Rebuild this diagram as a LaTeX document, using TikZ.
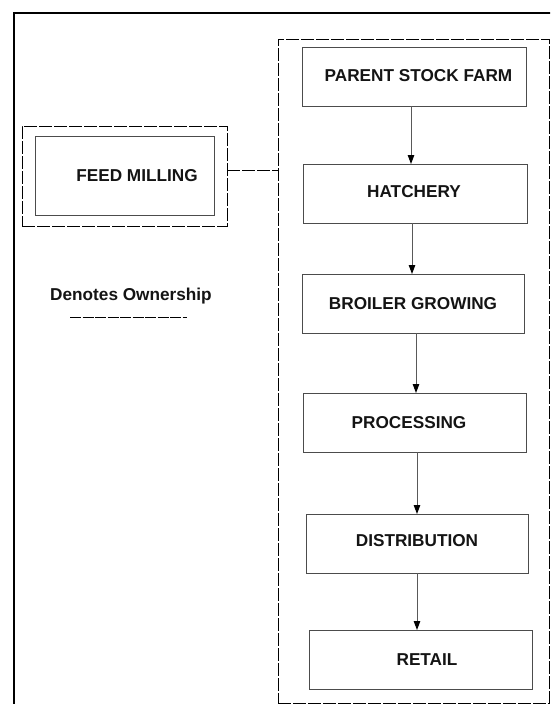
\documentclass[tikz,border=0pt]{standalone}
\usepackage{fontspec}
\setmainfont{Liberation Sans}
\usetikzlibrary{arrows.meta}
\begin{document}
\begin{tikzpicture}[x=1pt,y=-1pt,
  lbl/.style={font=\fontsize{17.2}{20}\selectfont\bfseries, text=black!92, inner sep=0pt},
  stage/.style={draw=black!70, line width=1pt, rectangle, inner sep=0pt, outer sep=0pt,
                minimum height=59pt},
  owned/.style={draw=black, line width=1pt, dash pattern=on 13pt off 2pt, rectangle,
                inner sep=0pt, outer sep=0pt},
  flow/.style={draw=black!65, line width=1pt, -{Triangle[length=9pt,width=6.5pt,color=black]}},
]
\useasboundingbox (0,0) rectangle (550,704);
\clip (0,0) rectangle (550,704);
\fill[white] (0,0) rectangle (550,704);

% outer frame (continues past the page edge)
\draw[line width=2pt, black] (14,740) -- (14,12.5) -- (600,12.5);

% ownership boundary around the integrated chain
\node[owned, minimum width=271pt, minimum height=664pt] (own) at (413.5,371) {};

% chain stages
\node[stage, minimum width=224pt, label={[lbl, xshift=4.5pt, yshift=1pt]center:PARENT STOCK FARM}] (parent) at (414,76.5) {};
\node[stage, minimum width=224pt, label={[lbl, xshift=-1pt, yshift=1.5pt]center:HATCHERY}] (hatch) at (415,193.5) {};
\node[stage, minimum width=222pt, label={[lbl, yshift=-0.5pt]center:BROILER GROWING}] (broiler) at (413,303.5) {};
\node[stage, minimum width=223pt, label={[lbl, xshift=-5.5pt, yshift=-0.5pt]center:PROCESSING}] (proc) at (414.5,422.5) {};
\node[stage, minimum width=222pt, label={[lbl, yshift=2.5pt]center:DISTRIBUTION}] (dist) at (417,543.5) {};
\node[stage, minimum width=223pt, label={[lbl, xshift=6.5pt, yshift=-0.5pt]center:RETAIL}] (retail) at (420.5,659.5) {};

% feed milling, owned separately
\node[owned, minimum width=205pt, minimum height=100pt] (feedown) at (124.5,176) {};
\node[stage, minimum width=179pt, minimum height=79pt, label={[lbl, xshift=12.5pt]center:FEED MILLING}] (feed) at (124.5,175.5) {};

% legend
\node[lbl, anchor=base] (legend) at (131,300.7) {Denotes Ownership};
\coordinate (legA) at (70,317);
\coordinate (legB) at (187,317);
\draw[black, line width=1pt, dash pattern=on 11pt off 1.5pt] (legA) -- (legB);

% flow arrows
\draw[flow] ([xshift=-3pt]parent.south) -- ([xshift=-3pt]parent.south |- hatch.north);
\draw[flow] ([xshift=-3pt]hatch.south) -- ([xshift=-3pt]hatch.south |- broiler.north);
\draw[flow] ([xshift=3pt]broiler.south) -- ([xshift=3pt]broiler.south |- proc.north);
\draw[flow] ([xshift=2.5pt]proc.south) -- ([xshift=2.5pt]proc.south |- dist.north);
\draw[flow] (dist.south) -- (dist.south |- retail.north);

% link between the two ownership groups
\draw[black, line width=1pt, dash pattern=on 13pt off 2pt]
  ([yshift=6pt]feedown.east) -- ([yshift=6pt]feedown.east -| own.west);
\end{tikzpicture}
\end{document}
